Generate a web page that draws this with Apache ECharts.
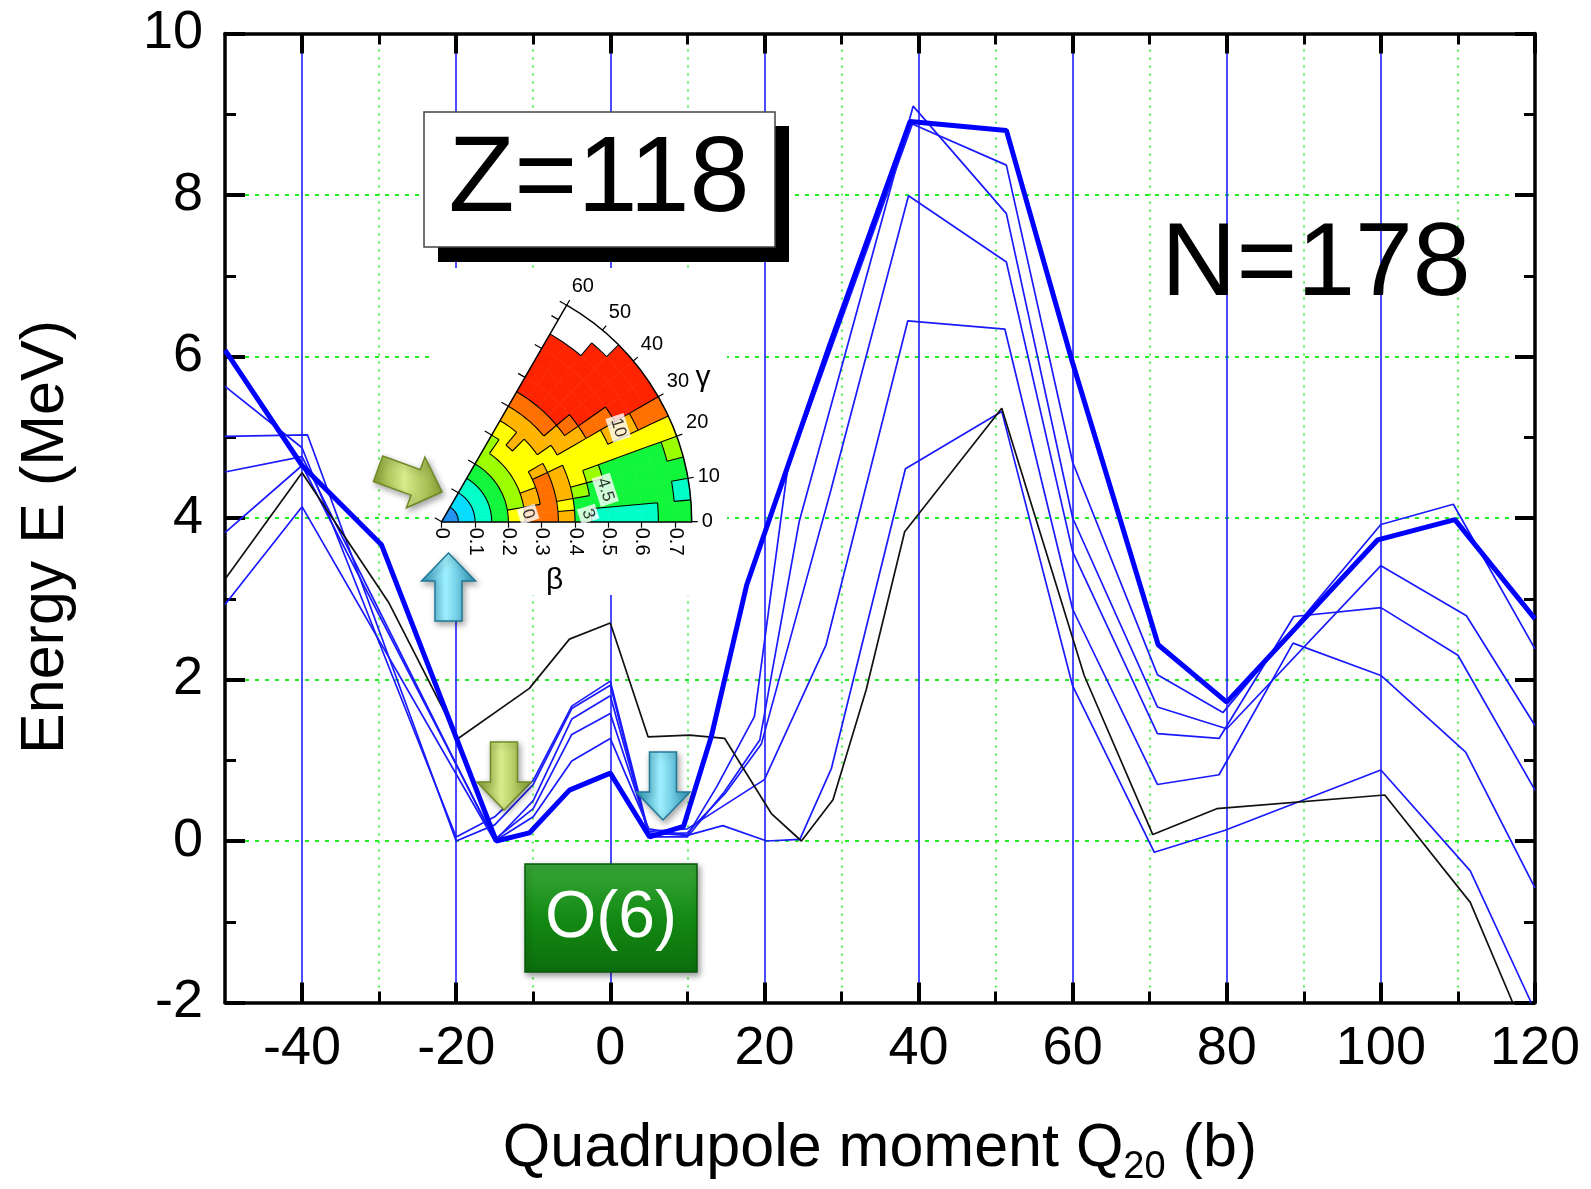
<!DOCTYPE html>
<html>
<head>
<meta charset="utf-8">
<title>Z=118, N=178 energy vs quadrupole moment</title>
<script src="https://cdn.jsdelivr.net/npm/echarts@6/dist/echarts.min.js"></script>
<style>
  html, body { margin: 0; padding: 0; background: #fff; }
  #chart { width: 1591px; height: 1189px; }
</style>
</head>
<body>
<div id="chart"></div>
<script>
"use strict";
// energy curves, [Q20 (b), E (MeV)]
const thickCurve = [[-50, 6.08], [-40, 4.65], [-29.7, 3.67], [-14.8, 0.0], [-10.5, 0.1], [-5.3, 0.63], [0, 0.84], [5.1, 0.05], [9.5, 0.18], [13.1, 1.29], [17.7, 3.17], [28.5, 6.15], [38.9, 8.91], [51.4, 8.80], [60, 5.92], [71.1, 2.43], [80, 1.72], [99.6, 3.73], [109.6, 3.98], [120, 2.75]];
const thinCurve1 = [[-50, 5.63], [-40, 4.87], [-20, 0.05], [-15, 0.3], [-10, 0.75], [-5, 1.67], [0, 1.98], [5, 0.1], [10, 0.07], [13.8, 0.67], [18.7, 1.54], [23, 4.6], [39.2, 8.88], [51.4, 8.37], [60, 4.69], [71, 2.06], [79.5, 1.59], [100, 3.92], [109.4, 4.17], [120, 2.38]];
const thinCurve2 = [[-50, 5.01], [-39.3, 5.03], [-20, 0.0], [-15, 0.2], [-10, 0.7], [-5, 1.64], [0, 1.93], [5, 0.05], [10, 0.05], [14.8, 0.61], [19.4, 1.25], [24.5, 3.95], [39.3, 9.1], [51.4, 7.77], [60, 4.0], [71, 1.66], [80, 1.39], [100, 3.41], [111.1, 2.79], [120, 1.43]];
const thinCurve3 = [[-50, 4.57], [-40, 4.76], [-15, 0.0], [-10, 0.5], [-5, 1.51], [0, 1.80], [5, 0.08], [10, 0.1], [15, 0.6], [19.6, 1.2], [25.2, 3.15], [28.5, 4.3], [38.7, 7.99], [51.4, 7.17], [60, 3.58], [71, 1.33], [79, 1.27], [88.7, 2.78], [100, 2.89], [110, 2.30], [120, 0.63]];
const thinCurve4 = [[-50, 3.82], [-40, 4.65], [-15, 0.02], [-10, 0.4], [-5, 1.32], [0, 1.58], [5, 0.12], [10, 0.15], [20, 0.76], [28, 2.43], [38.6, 6.44], [51.2, 6.34], [60, 2.87], [71, 0.70], [79, 0.82], [88.6, 2.45], [100, 2.05], [111, 1.10], [120, -0.58]];
const thinCurve5 = [[-50, 2.93], [-40, 4.14], [-15, 0.0], [-10, 0.3], [-5, 0.99], [0, 1.27], [5, 0.15], [10, 0.07], [14.6, 0.19], [20.3, 0.0], [24.6, 0.02], [28.7, 0.90], [38.3, 4.61], [50.8, 5.32], [60, 1.92], [70.6, -0.14], [79.7, 0.13], [100, 0.88], [111.6, -0.37], [119.5, -2.0]];
const blackCurve = [[-50, 3.24], [-40, 4.56], [-28.8, 2.96], [-19.75, 1.27], [-10.5, 1.89], [-5.3, 2.50], [0, 2.70], [4.9, 1.29], [10.3, 1.31], [14.85, 1.27], [20.9, 0.34], [24.8, 0.0], [28.9, 0.51], [33.2, 1.87], [38.2, 3.83], [50.8, 5.36], [61.5, 2.05], [70.4, 0.08], [78.7, 0.40], [100.5, 0.57], [111.6, -0.76], [117.1, -2.0]];
const thinCurves = [thinCurve1, thinCurve2, thinCurve3, thinCurve4, thinCurve5];

// axis ticks
const xMajorTicks = [-40, -20, 0, 20, 40, 60, 80, 100, 120];
const xMinorTicks = [-30, -10, 10, 30, 50, 70, 90, 110];

// inset: energy surface in the (beta, gamma) sector
// colour level per cell, rows gamma 0-5 ... 55-60, columns beta 0-0.05 ... 0.70-0.75
const insetLevels = [
    [0, 1, 2, 3, 5, 7, 7, 6, 3, 2, 2, 2, 2, 3, 3],
    [0, 1, 2, 3, 5, 7, 7, 5, 3, 3, 3, 3, 3, 3, 2],
    [0, 1, 2, 3, 4, 6, 7, 6, 4, 3, 3, 3, 3, 3, 3],
    [0, 1, 2, 3, 4, 6, 7, 6, 5, 4, 3, 3, 3, 3, 4],
    [0, 1, 2, 3, 4, 5, 7, 6, 5, 5, 5, 5, 5, 5, 5],
    [0, 1, 2, 3, 4, 5, 6, 5, 5, 5, 5, 6, 6, 7, 7],
    [0, 1, 2, 3, 4, 5, 5, 5, 6, 6, 7, 7, 8, 8, 8],
    [0, 1, 2, 3, 4, 5, 5, 6, 6, 7, 8, 8, 8, 8, 8],
    [0, 1, 2, 3, 4, 5, 5, 6, 7, 8, 8, 8, 8, 8, 8],
    [0, 1, 2, 3, 4, 5, 6, 6, 7, 8, 8, 8, 8, 8, 9],
    [0, 1, 2, 3, 4, 5, 5, 6, 7, 8, 8, 8, 8, 9, 9],
    [0, 1, 2, 3, 4, 4, 5, 6, 7, 8, 8, 8, 8, 9, 9],
];
const insetPalette = ["#1e8ff0", "#00dcff", "#00ffc8", "#11f53a", "#9cff00", "#ffff00", "#ffb400", "#ff7000", "#ff2400", "#ffffff"];
const gammaBins = ["0", "5", "10", "15", "20", "25", "30", "35", "40", "45", "50", "55"];
const contourLabels = [{ name: "10", value: [0.6, 28] }, { name: "4.5", value: [0.5, 11] }, { name: "3", value: [0.44, 3] }, { name: "0", value: [0.26, 5] }];
const BETA_MAX = 0.75;
const BETA_STEP = 0.05;
const GAMMA_STEP = 5;

const FONT = '"Liberation Sans", Arial, sans-serif';
const INSET_CENTER = [441.7, 521.7];
const INSET_R = 250;
const chart = echarts.init(document.getElementById("chart"), null, { renderer: "canvas" });

// boundaries between colour levels, as broken polylines in (beta, gamma)
const contourPath = [];
insetLevels.forEach((row, j) => row.forEach((lvl, i) => {
    const r0 = i * BETA_STEP, r1 = r0 + BETA_STEP;
    const a0 = j * GAMMA_STEP, a1 = a0 + GAMMA_STEP;
    if (j + 1 < insetLevels.length && insetLevels[j + 1][i] !== lvl) {
        contourPath.push([r0, a1], [r1, a1], ["-", "-"]);
    }
    if (i + 1 < row.length && row[i + 1] !== lvl) {
        for (let k = 0; k <= 4; k++) contourPath.push([r1, a0 + (a1 - a0) * k / 4]);
        contourPath.push(["-", "-"]);
    }
}));

// arrow polygon ending at the tip
function arrowShape(tipX, tipY, angleDeg, len, shaftW, headW, headLen) {
    const a = angleDeg * Math.PI / 180;
    const ux = Math.cos(a), uy = Math.sin(a);
    const nx = -uy, ny = ux;
    const bx = tipX - ux * headLen, by = tipY - uy * headLen;
    const tx = tipX - ux * len, ty = tipY - uy * len;
    return [
        [tipX, tipY],
        [bx + nx * headW / 2, by + ny * headW / 2],
        [bx + nx * shaftW / 2, by + ny * shaftW / 2],
        [tx + nx * shaftW / 2, ty + ny * shaftW / 2],
        [tx - nx * shaftW / 2, ty - ny * shaftW / 2],
        [bx - nx * shaftW / 2, by - ny * shaftW / 2],
        [bx - nx * headW / 2, by - ny * headW / 2],
    ];
}
function arrow(tipX, tipY, angleDeg, c1, c2, edge) {
    return {
        type: "polygon",
        shape: { points: arrowShape(tipX, tipY, angleDeg, 68, 27, 54, 28) },
        style: {
            fill: new echarts.graphic.LinearGradient(0, 0, 1, 0, [
                { offset: 0, color: c2 }, { offset: 0.45, color: c1 }, { offset: 1, color: c2 },
            ]),
            stroke: edge, lineWidth: 1.5,
            shadowBlur: 6, shadowColor: "rgba(0,0,0,0.35)", shadowOffsetX: 2, shadowOffsetY: 3,
        },
        z: 20,
    };
}

const xBase = { type: "value", min: -50, max: 120, gridIndex: 0 };
const yBase = { type: "value", min: -2, max: 10, gridIndex: 0 };
const majorTick = { show: true, inside: true, length: 20, lineStyle: { color: "#000", width: 4 } };
const minorTick = { show: true, inside: true, length: 11, lineStyle: { color: "#000", width: 3 } };
const frameLine = { show: true, onZero: false, lineStyle: { color: "#000", width: 3.5 } };
const insetLine = { show: true, lineStyle: { color: "#000", width: 1.5 } };

const option = {
    backgroundColor: "#fff",
    animation: false,
    textStyle: { fontFamily: FONT },
    grid: [
        { left: 225, right: 56, top: 33.5, bottom: 186.5, containLabel: false, outerBoundsMode: "none" },
        // carries the beta tick labels of the inset
        { left: INSET_CENTER[0], width: INSET_R, top: INSET_CENTER[1] - 2, height: 2, containLabel: false, outerBoundsMode: "none" },
    ],
    polar: [
        { center: INSET_CENTER, radius: [0, INSET_R] },
        { center: INSET_CENTER, radius: [0, INSET_R] },
        { center: INSET_CENTER, radius: [0, INSET_R] },
    ],
    angleAxis: [
        {
            polarIndex: 0, type: "value", min: 0, max: 60, interval: 10,
            startAngle: 0, endAngle: 60, clockwise: false,
            axisLine: insetLine,
            axisTick: { show: true, length: 6, lineStyle: { color: "#000", width: 1.2 } },
            axisLabel: { color: "#000", fontSize: 20, margin: 10, fontFamily: FONT },
            splitLine: { show: false },
            z: 12,
        },
        {
            polarIndex: 1, type: "category", data: gammaBins, boundaryGap: true,
            startAngle: 0, endAngle: 60, clockwise: false, show: false,
        },
        { polarIndex: 2, type: "value", min: 0, max: 360, startAngle: 60, show: false },
    ],
    radiusAxis: [
        {
            polarIndex: 0, type: "value", min: 0, max: BETA_MAX,
            axisLine: insetLine, axisTick: { show: false }, axisLabel: { show: false }, splitLine: { show: false },
            z: 12,
        },
        { polarIndex: 1, type: "value", min: 0, max: BETA_MAX, show: false },
        {
            polarIndex: 2, type: "value", min: 0, max: BETA_MAX, interval: 0.1,
            axisLine: insetLine,
            axisTick: { show: true, length: 8, lineStyle: { color: "#000", width: 1.2 } },
            axisLabel: { show: false }, splitLine: { show: false },
            z: 12,
        },
    ],
    xAxis: [
        Object.assign({}, xBase, {
            position: "bottom",
            axisLine: frameLine,
            axisTick: Object.assign({ customValues: xMajorTicks }, majorTick),
            axisLabel: { customValues: xMajorTicks, color: "#000", fontSize: 54, margin: 20, fontFamily: FONT },
            splitLine: { show: true, lineStyle: { color: "#1f1fff", width: 1.6 } },
            name: "Quadrupole moment Q{sub|20} (b)",
            nameLocation: "middle", nameGap: 110,
            nameTextStyle: {
                color: "#000", fontSize: 61, fontFamily: FONT,
                rich: { sub: { fontSize: 38, color: "#000", fontFamily: FONT, padding: [36, 0, 0, 0] } },
            },
        }),
        Object.assign({}, xBase, {
            position: "bottom",
            axisLine: { show: false, onZero: false },
            axisTick: Object.assign({ customValues: xMinorTicks }, minorTick),
            axisLabel: { show: false },
            splitLine: { show: true, lineStyle: { color: "#22ee22", width: 1.6, type: [2, 6] } },
        }),
        Object.assign({}, xBase, {
            position: "top",
            axisLine: frameLine,
            axisTick: Object.assign({ customValues: xMajorTicks }, majorTick),
            axisLabel: { show: false },
            splitLine: { show: false },
        }),
        Object.assign({}, xBase, {
            position: "top",
            axisLine: { show: false, onZero: false },
            axisTick: Object.assign({ customValues: xMinorTicks }, minorTick),
            axisLabel: { show: false },
            splitLine: { show: false },
        }),
        {
            type: "value", gridIndex: 1, min: 0, max: BETA_MAX, interval: 0.1, position: "bottom",
            axisLine: { show: false, onZero: false },
            axisTick: { show: true, length: 6, lineStyle: { color: "#000", width: 1.2 } },
            axisLabel: { color: "#000", fontSize: 20, rotate: -90, margin: 6, fontFamily: FONT },
            splitLine: { show: false },
            name: "β", nameLocation: "middle", nameGap: 44,
            nameTextStyle: { color: "#000", fontSize: 30, fontFamily: FONT, padding: [0, 24, 0, 0] },
            z: 12,
        },
    ],
    yAxis: [
        Object.assign({}, yBase, {
            position: "left", interval: 2,
            axisLine: frameLine,
            axisTick: majorTick,
            axisLabel: { color: "#000", fontSize: 54, margin: 22, fontFamily: FONT },
            splitLine: { show: true, lineStyle: { color: "#22ee22", width: 1.8, type: [4, 6] } },
            name: "Energy E (MeV)", nameLocation: "middle", nameGap: 148, nameRotate: 90,
            nameTextStyle: { color: "#000", fontSize: 61, fontFamily: FONT, padding: [0, 38, 0, 0] },
        }),
        Object.assign({}, yBase, {
            position: "left", interval: 1,
            axisLine: { show: false, onZero: false }, axisTick: minorTick,
            axisLabel: { show: false }, splitLine: { show: false },
        }),
        Object.assign({}, yBase, {
            position: "right", interval: 2,
            axisLine: frameLine,
            axisTick: majorTick, axisLabel: { show: false }, splitLine: { show: false },
        }),
        Object.assign({}, yBase, {
            position: "right", interval: 1,
            axisLine: { show: false, onZero: false }, axisTick: minorTick,
            axisLabel: { show: false }, splitLine: { show: false },
        }),
        { type: "value", gridIndex: 1, show: false },
    ],
    series: [
        ...thinCurves.map((d, k) => ({
            name: `thin ${k + 1}`, type: "line", data: d, xAxisIndex: 0, yAxisIndex: 0,
            symbol: "none", lineStyle: { color: "#1a1aff", width: 1.7 }, z: 3, clip: true,
        })),
        {
            name: "black", type: "line", data: blackCurve, xAxisIndex: 0, yAxisIndex: 0,
            symbol: "none", lineStyle: { color: "#111", width: 1.7 }, z: 3, clip: true,
        },
        {
            name: "thick", type: "line", data: thickCurve, xAxisIndex: 0, yAxisIndex: 0,
            symbol: "none", lineStyle: { color: "#0000ff", width: 5 }, z: 4, clip: true,
        },
        // inset cells: one stacked ring per beta bin
        ...insetLevels[0].map((_, i) => ({
            name: `beta ${i}`, type: "bar", coordinateSystem: "polar", polarIndex: 1, stack: "pes",
            barCategoryGap: "0%", silent: true, z: 10,
            data: insetLevels.map((row) => ({
                value: BETA_STEP,
                itemStyle: { color: insetPalette[row[i]], borderColor: insetPalette[row[i]], borderWidth: 0.6 },
            })),
        })),
        {
            name: "contours", type: "line", coordinateSystem: "polar", polarIndex: 0,
            data: contourPath, symbol: "none", connectNulls: false, clip: false, silent: true,
            lineStyle: { color: "#000", width: 1.1 }, z: 11,
        },
        {
            name: "contour values", type: "scatter", coordinateSystem: "polar", polarIndex: 0,
            data: contourLabels, symbolSize: 0, silent: true, z: 13,
            label: {
                show: true, position: "inside", formatter: "{b}", rotate: -72,
                color: "#000", fontSize: 17, fontFamily: FONT, backgroundColor: "#fff", padding: [1, 3],
            },
        },
    ],
    graphic: [
        // white backdrop behind the inset
        { type: "rect", shape: { x: 433, y: 268, width: 294, height: 327 }, style: { fill: "#fff" }, z: 1 },
        // Z=118 label box with drop shadow
        { type: "rect", shape: { x: 438, y: 126, width: 351, height: 136 }, style: { fill: "#000" }, z: 5 },
        { type: "rect", shape: { x: 424, y: 112, width: 351, height: 135 }, style: { fill: "#fff", stroke: "#444", lineWidth: 1.5 }, z: 6 },
        {
            type: "text", x: 599, y: 181, z: 7,
            style: { text: "Z=118", font: `108px ${FONT}`, fill: "#000", align: "center", verticalAlign: "middle" },
        },
        {
            type: "text", x: 1316, y: 266, z: 7,
            style: { text: "N=178", font: `104px ${FONT}`, fill: "#000", align: "center", verticalAlign: "middle" },
        },
        // O(6) box
        {
            type: "rect", shape: { x: 525, y: 864, width: 172, height: 108 }, z: 6,
            style: {
                fill: new echarts.graphic.LinearGradient(0, 0, 0, 1, [
                    { offset: 0, color: "#3aa83a" }, { offset: 0.5, color: "#138a13" }, { offset: 1, color: "#0c6e0c" },
                ]),
                stroke: "#0a5a0a", lineWidth: 1.5,
                shadowBlur: 6, shadowColor: "rgba(0,0,0,0.4)", shadowOffsetX: 2, shadowOffsetY: 3,
            },
        },
        {
            type: "text", x: 611, y: 919, z: 7,
            style: { text: "O(6)", font: `66px ${FONT}`, fill: "#fff", align: "center", verticalAlign: "middle" },
        },
        { type: "text", x: 703, y: 378, z: 13, style: { text: "γ", font: `30px ${FONT}`, fill: "#000", align: "center", verticalAlign: "middle" } },
        // arrows
        arrow(442, 492, 20, "#d8ec8a", "#86a232", "#6f8a25"),
        arrow(448.5, 553, -90, "#9ff0ff", "#2b95b8", "#1f7898"),
        arrow(504, 810, 90, "#d8ec8a", "#86a232", "#6f8a25"),
        arrow(663, 820, 90, "#9ff0ff", "#2b95b8", "#1f7898"),
    ],
};
chart.setOption(option);
</script>
</body>
</html>
